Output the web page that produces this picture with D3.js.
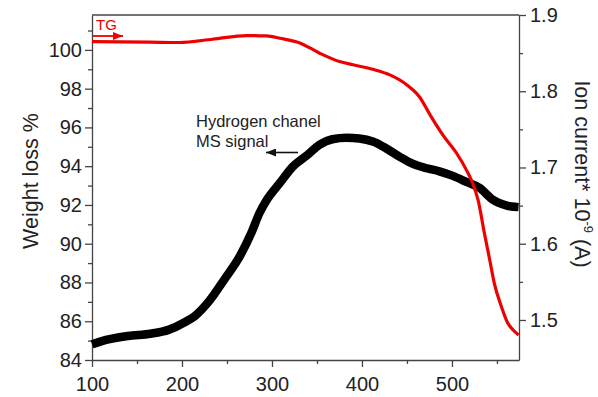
<!DOCTYPE html>
<html>
<head>
<meta charset="utf-8">
<script src="https://cdn.jsdelivr.net/npm/d3@7"></script>
<style>
  html, body { margin: 0; padding: 0; background: #fff; }
  svg { display: block; font-family: "Liberation Sans", Arial, sans-serif; }
  .axis path, .axis line { stroke: #444; stroke-width: 1.3; }
  .axis text { fill: #222; font-size: 20px; }
</style>
</head>
<body>
<svg id="chart" width="598" height="397"></svg>
<script>
// Temperature (°C) and hydrogen MS ion current (×1e-9 A)
const msTemp = [100, 110, 140, 165, 185, 203, 216, 231, 247, 264, 277, 286, 294, 309, 323,
                339, 353, 367, 383, 397, 412, 427, 442, 456, 472, 486, 501, 516, 531, 545, 561, 574];
const msCurrent = [1.468, 1.472, 1.479, 1.482, 1.487, 1.497, 1.507, 1.526, 1.553, 1.583, 1.614,
                   1.640, 1.657, 1.680, 1.701, 1.716, 1.730, 1.737, 1.739, 1.738, 1.734, 1.725,
                   1.714, 1.705, 1.699, 1.695, 1.689, 1.681, 1.673, 1.658, 1.650, 1.648];

// Temperature (°C) and TG weight (%)
const tgTemp = [100, 164, 197, 234, 272, 294, 309, 331, 353, 375, 390, 412, 431, 450, 464,
                476, 490, 505, 516, 523, 529, 536, 542, 547, 555, 562, 568, 574];
const tgWeight = [100.43, 100.40, 100.38, 100.55, 100.74, 100.72, 100.60, 100.36, 99.83, 99.40,
                  99.23, 99.00, 98.71, 98.19, 97.57, 96.62, 95.60, 94.68, 93.81, 93.12, 92.26,
                  90.55, 89.16, 87.97, 86.75, 85.91, 85.55, 85.29];

// Axis ticks
const xMajor = [100, 200, 300, 400, 500];
const xMinor = [150, 250, 350, 450, 550];
const yLeftMajor = [84, 86, 88, 90, 92, 94, 96, 98, 100];
const yLeftMinor = [85, 87, 89, 91, 93, 95, 97, 99, 101];
const yRightMajor = [1.5, 1.6, 1.7, 1.8, 1.9];
const yRightMinor = [1.55, 1.65, 1.75, 1.85];

const svg = d3.select("#chart");
const L = 92, R = 519, T = 15, B = 360;

const x = d3.scaleLinear().domain([100, 574.5]).range([L, R]);
const yL = d3.scaleLinear().domain([84, 101.8]).range([B, T]);
const yR = d3.scaleLinear().domain([1.4475, 1.9]).range([B, T]);

// Bottom axis
svg.append("g").attr("class", "axis").attr("transform", `translate(0,${B})`)
  .call(d3.axisBottom(x).tickValues(xMinor).tickSize(4).tickFormat(""))
  .call(g => g.select(".domain").remove());
svg.append("g").attr("class", "axis").attr("transform", `translate(0,${B})`)
  .call(d3.axisBottom(x).tickValues(xMajor).tickSize(7).tickSizeOuter(0).tickPadding(10).tickFormat(d3.format("d")));

// Left axis
svg.append("g").attr("class", "axis").attr("transform", `translate(${L},0)`)
  .call(d3.axisLeft(yL).tickValues(yLeftMinor).tickSize(4).tickFormat(""))
  .call(g => g.select(".domain").remove());
svg.append("g").attr("class", "axis").attr("transform", `translate(${L},0)`)
  .call(d3.axisLeft(yL).tickValues(yLeftMajor).tickSize(7).tickSizeOuter(0).tickPadding(3).tickFormat(d3.format("d")));

// Right axis
svg.append("g").attr("class", "axis").attr("transform", `translate(${R},0)`)
  .call(d3.axisRight(yR).tickValues(yRightMinor).tickSize(4).tickFormat(""))
  .call(g => g.select(".domain").remove());
svg.append("g").attr("class", "axis").attr("transform", `translate(${R},0)`)
  .call(d3.axisRight(yR).tickValues(yRightMajor).tickSize(7).tickSizeOuter(0).tickPadding(4).tickFormat(d3.format(".1f")));

// Top frame line
svg.append("line").attr("x1", L).attr("x2", R).attr("y1", T).attr("y2", T)
  .attr("stroke", "#444").attr("stroke-width", 1.3);

// Axis titles
svg.append("text").attr("transform", "translate(38,181) rotate(-90)")
  .attr("text-anchor", "middle").attr("font-size", 21.5).attr("fill", "#222")
  .text("Weight loss %");
const rt = svg.append("text").attr("transform", "translate(575,174) rotate(90)")
  .attr("text-anchor", "middle").attr("font-size", 21.5).attr("fill", "#222");
rt.append("tspan").text("Ion current* 10");
rt.append("tspan").attr("dy", -9).attr("font-size", 13).text("-9");
rt.append("tspan").attr("dy", 9).text(" (A)");

// Curves
const msLine = d3.line().x(d => x(d[0])).y(d => yR(d[1])).curve(d3.curveMonotoneX);
const tgLine = d3.line().x(d => x(d[0])).y(d => yL(d[1])).curve(d3.curveMonotoneX);

svg.append("path").datum(d3.zip(msTemp, msCurrent))
  .attr("d", msLine).attr("fill", "none").attr("stroke", "#000")
  .attr("stroke-width", 8.5).attr("stroke-linejoin", "round");

svg.append("path").datum(d3.zip(tgTemp, tgWeight))
  .attr("d", tgLine).attr("fill", "none").attr("stroke", "#ee0000")
  .attr("stroke-width", 3.2).attr("stroke-linejoin", "round");

// Arrow markers
const defs = svg.append("defs");
[["arrRed", "#ee0000"], ["arrBlack", "#111"]].forEach(([id, c]) => {
  defs.append("marker").attr("id", id).attr("viewBox", "0 0 10 8")
    .attr("refX", 10).attr("refY", 4).attr("markerWidth", 10).attr("markerHeight", 8)
    .attr("markerUnits", "userSpaceOnUse").attr("orient", "auto")
    .append("path").attr("d", "M0,0 L10,4 L0,8 Z").attr("fill", c);
});

// TG label with arrow
svg.append("text").attr("x", 96).attr("y", 30).attr("font-size", 15)
  .attr("fill", "#ee0000").text("TG");
svg.append("line").attr("x1", 93).attr("x2", 123).attr("y1", 36).attr("y2", 36)
  .attr("stroke", "#ee0000").attr("stroke-width", 1.8).attr("marker-end", "url(#arrRed)");

// MS label with arrow
svg.append("text").attr("x", 196).attr("y", 127).attr("font-size", 16.5)
  .attr("fill", "#222").text("Hydrogen chanel");
svg.append("text").attr("x", 196).attr("y", 147).attr("font-size", 16.5)
  .attr("fill", "#222").text("MS signal");
svg.append("line").attr("x1", 298).attr("x2", 266).attr("y1", 152.5).attr("y2", 152.5)
  .attr("stroke", "#111").attr("stroke-width", 1.6).attr("marker-end", "url(#arrBlack)");
</script>
</body>
</html>
